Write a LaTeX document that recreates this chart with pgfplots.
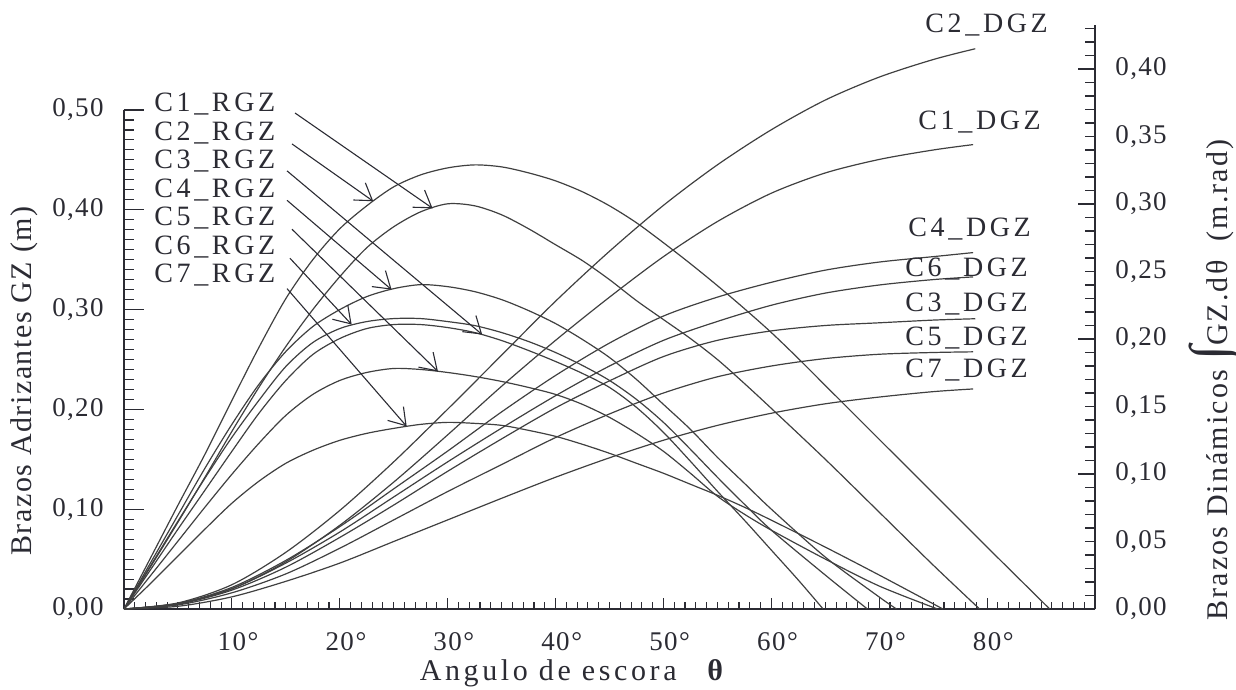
\documentclass[border=0pt]{standalone}
\usepackage{fontspec}
\setmainfont{Liberation Serif}
\newfontfamily\tickfont[LetterSpace=5]{Liberation Serif}
\newfontfamily\clabfont[LetterSpace=13]{Liberation Serif}
\newfontfamily\ylabfont[LetterSpace=5]{Liberation Serif}
\newfontfamily\rlabfont[LetterSpace=7]{Liberation Serif}
\newfontfamily\xlabfont[LetterSpace=12]{Liberation Serif}
\usepackage{pgfplots}
\pgfplotsset{compat=1.18}
\usetikzlibrary{arrows.meta}
\definecolor{ink}{HTML}{2B2B33}
\definecolor{crv}{HTML}{404040}
\newcommand{\tk}{\tickfont\fontsize{13.5}{16}\selectfont}
\newcommand{\cl}{\clabfont\fontsize{14}{16}\selectfont}
\newcommand{\dg}{\rlap{\kern0.8pt°}}
\pgfplotsset{
  base/.style={at={(0,0)}, anchor=south west, scale only axis, width=485.5pt,
    xmin=0, xmax=90, ymin=0, clip=false,
    axis line style={-, draw=ink, line width=0.8pt},
    tick style={draw=ink, line width=0.55pt}},
  crvs/.style={crv, line width=0.6pt, smooth, tension=0.5},
}
\begin{document}
\begin{tikzpicture}
\useasboundingbox (-62pt,-40.5pt) rectangle (556pt,304.5pt);
% ---- x axis
\begin{axis}[base, height=249.5pt, ymax=0.5,
  axis x line=bottom, axis y line=none, ytick=\empty,
  x axis line style={-}, tick align=inside,
  xtick={0,10,20,30,40,50,60,70,80,90},
  xticklabels={{},{10\dg},{20\dg},{30\dg},{40\dg},{50\dg},{60\dg},{70\dg},{80\dg},{}},
  minor xtick={0,1,...,90},
  major tick length=5.3pt, minor tick length=3.3pt,
  xticklabel style={font=\tk, text=ink, inner sep=0pt, anchor=north, yshift=-11.5pt}]
\end{axis}
% ---- left axis: righting arms GZ
\begin{axis}[base, height=249.5pt, ymax=0.5,
  axis x line=none, axis y line=left, xtick=\empty,
  y axis line style={-}, tick align=inside,
  ytick={0,0.1,0.2,0.3,0.4,0.5},
  yticklabels={{0,00},{0,10},{0,20},{0,30},{0,40},{0,50}},
  minor ytick={0,0.01,...,0.5},
  major tick length=10pt, minor tick length=4.75pt,
  yticklabel style={font=\tk, text=ink, inner sep=0pt, anchor=east, xshift=-10pt}]
% C1_RGZ
\addplot[crvs] coordinates {(0,0)(2.5,0.043)(5,0.087)(7.5,0.132)(10,0.178)(12.5,0.222)(15,0.263)(17.5,0.300)(20,0.333)(22.5,0.362)(25,0.383)(27.5,0.398)(30,0.406)(32.5,0.404)(35,0.395)(37.5,0.381)(40,0.365)(42.5,0.349)(45,0.330)(47.5,0.309)(50,0.290)(52.5,0.271)(55,0.250)(57.5,0.226)(60,0.201)(65,0.150)(70,0.097)(75,0.044)(79.3,0)};
% C2_RGZ
\addplot[crvs] coordinates {(0,0)(2.5,0.052)(5,0.104)(7.5,0.155)(10,0.209)(12.5,0.262)(15,0.311)(17.5,0.350)(20,0.381)(22.5,0.404)(25,0.423)(27.5,0.435)(30,0.442)(32.5,0.445)(35,0.443)(37.5,0.437)(40,0.429)(42.5,0.418)(45,0.404)(47.5,0.387)(50,0.367)(52.5,0.346)(55,0.324)(57.5,0.301)(60,0.277)(62.5,0.251)(65,0.224)(70,0.170)(75,0.116)(80,0.062)(85.8,0)};
% C3_RGZ
\addplot[crvs] coordinates {(0,0)(2.5,0.040)(5,0.080)(7.5,0.119)(10,0.158)(12.5,0.196)(15,0.229)(17.5,0.255)(20,0.271)(22.5,0.281)(25,0.285)(27.5,0.285)(30,0.282)(32.5,0.277)(35,0.269)(37.5,0.259)(40,0.248)(42.5,0.236)(45,0.222)(47.5,0.202)(50,0.177)(52.5,0.148)(55,0.118)(57.5,0.089)(60,0.059)(62.5,0.029)(64.8,0)};
% C4_RGZ
\addplot[crvs] coordinates {(0,0)(2.5,0.047)(5,0.094)(7.5,0.141)(10,0.185)(12.5,0.225)(15,0.258)(17.5,0.283)(20,0.300)(22.5,0.313)(25,0.321)(27.5,0.325)(30,0.323)(32.5,0.318)(35,0.310)(37.5,0.299)(40,0.286)(42.5,0.270)(45,0.252)(47.5,0.230)(50,0.205)(52.5,0.180)(55,0.152)(57.5,0.126)(60,0.100)(65,0.052)(70,0.012)(71.6,0)};
% C5_RGZ
\addplot[crvs] coordinates {(0,0)(2.5,0.034)(5,0.068)(7.5,0.102)(10,0.135)(12.5,0.166)(15,0.194)(17.5,0.215)(20,0.229)(22.5,0.237)(25,0.241)(27.5,0.240)(30,0.237)(32.5,0.233)(35,0.228)(37.5,0.222)(40,0.215)(42.5,0.205)(45,0.192)(47.5,0.176)(50,0.158)(52.5,0.136)(55,0.113)(57.5,0.095)(60,0.079)(65,0.050)(70,0.023)(75.4,0)};
% C6_RGZ
\addplot[crvs] coordinates {(0,0)(2.5,0.044)(5,0.088)(7.5,0.131)(10,0.172)(12.5,0.209)(15,0.243)(17.5,0.267)(20,0.281)(22.5,0.288)(25,0.291)(27.5,0.291)(30,0.288)(32.5,0.284)(35,0.277)(37.5,0.268)(40,0.257)(42.5,0.244)(45,0.229)(47.5,0.210)(50,0.187)(52.5,0.160)(55,0.132)(57.5,0.105)(60,0.079)(65,0.034)(68.9,0)};
% C7_RGZ
\addplot[crvs] coordinates {(0,0)(2.5,0.026)(5,0.053)(7.5,0.080)(10,0.106)(12.5,0.128)(15,0.146)(17.5,0.159)(20,0.169)(22.5,0.176)(25,0.181)(27.5,0.185)(30,0.187)(32.5,0.186)(35,0.184)(37.5,0.179)(40,0.173)(42.5,0.165)(45,0.156)(47.5,0.146)(50,0.136)(52.5,0.125)(55,0.114)(57.5,0.102)(60,0.089)(65,0.062)(70,0.034)(75.9,0)};
% arrows from labels to curves
\begin{scope}[ink, line width=0.55pt, -{Straight Barb[length=8pt,width=10.5pt]}]
\draw (axis cs:15.85,0.497) -- (axis cs:28.6,0.4015);
\draw (axis cs:15.57,0.466) -- (axis cs:23.1,0.4086);
\draw (axis cs:15.11,0.439) -- (axis cs:33.2,0.275);
\draw (axis cs:15.11,0.4095) -- (axis cs:24.8,0.320);
\draw (axis cs:15.57,0.3805) -- (axis cs:29.1,0.238);
\draw (axis cs:15.38,0.3515) -- (axis cs:21.1,0.2850);
\draw (axis cs:15.11,0.321) -- (axis cs:26.2,0.183);
\end{scope}
\end{axis}
% ---- right axis: dynamic arms
\begin{axis}[base, height=292pt, ymax=0.4326,
  axis x line=none, axis y line=right, xtick=\empty,
  y axis line style={-}, tick align=inside,
  ytick={0,0.05,0.1,0.15,0.2,0.25,0.3,0.35,0.4},
  yticklabels={{0,00},{0,05},{0,10},{0,15},{0,20},{0,25},{0,30},{0,35},{0,40}},
  minor ytick={0,0.01,...,0.43},
  major tick length=5pt, minor tick length=5pt,
  extra y ticks={0,0.1,0.2,0.3,0.4}, extra y tick labels={},
  extra y tick style={major tick length=8.5pt},
  yticklabel style={font=\tk, text=ink, inner sep=0pt, anchor=west, xshift=10pt}]
% C1_DGZ
\addplot[crvs] coordinates {(0,0)(5,0.004)(10,0.015)(15,0.035)(20,0.062)(25,0.094)(30,0.129)(35,0.165)(40,0.199)(45,0.231)(50,0.261)(55,0.287)(60,0.308)(65,0.323)(70,0.333)(75,0.340)(78.7,0.344)};
% C2_DGZ
\addplot[crvs] coordinates {(0,0)(5,0.0045)(10,0.018)(15,0.042)(20,0.073)(25,0.109)(30,0.148)(35,0.188)(40,0.228)(45,0.265)(50,0.299)(55,0.329)(60,0.355)(65,0.377)(70,0.394)(75,0.407)(78.9,0.415)};
% C3_DGZ
\addplot[crvs] coordinates {(0,0)(5,0.0035)(10,0.014)(15,0.031)(20,0.053)(25,0.077)(30,0.102)(35,0.126)(40,0.149)(45,0.169)(50,0.187)(55,0.199)(60,0.206)(65,0.210)(70,0.212)(75,0.214)(78.9,0.215)};
% C4_DGZ
\addplot[crvs] coordinates {(0,0)(5,0.004)(10,0.016)(15,0.036)(20,0.061)(25,0.089)(30,0.117)(35,0.146)(40,0.173)(45,0.197)(50,0.217)(55,0.231)(60,0.242)(65,0.251)(70,0.257)(75,0.261)(78.7,0.264)};
% C5_DGZ
\addplot[crvs] coordinates {(0,0)(5,0.003)(10,0.012)(15,0.026)(20,0.045)(25,0.066)(30,0.087)(35,0.107)(40,0.127)(45,0.1445)(50,0.160)(55,0.172)(60,0.180)(65,0.1855)(70,0.1887)(75,0.190)(78.7,0.1905)};
% C6_DGZ
\addplot[crvs] coordinates {(0,0)(5,0.004)(10,0.015)(15,0.034)(20,0.057)(25,0.083)(30,0.109)(35,0.134)(40,0.158)(45,0.180)(50,0.199)(55,0.213)(60,0.225)(65,0.234)(70,0.240)(75,0.244)(78.7,0.246)};
% C7_DGZ
\addplot[crvs] coordinates {(0,0)(5,0.002)(10,0.009)(15,0.0205)(20,0.034)(25,0.050)(30,0.066)(35,0.082)(40,0.0976)(45,0.112)(50,0.125)(55,0.136)(60,0.145)(65,0.152)(70,0.157)(75,0.161)(78.7,0.163)};
\end{axis}
% ---- curve labels
\begin{scope}[every node/.style={text=ink, inner sep=0pt, anchor=base west, font=\cl}]
\node at (15pt,248.5pt) {C1\_RGZ};
\node at (15pt,234.25pt) {C2\_RGZ};
\node at (15pt,220pt) {C3\_RGZ};
\node at (15pt,205.75pt) {C4\_RGZ};
\node at (15pt,191.5pt) {C5\_RGZ};
\node at (15pt,177.25pt) {C6\_RGZ};
\node at (15pt,163pt) {C7\_RGZ};
\node at (400.5pt,288pt) {C2\_DGZ};
\node at (397pt,239.5pt) {C1\_DGZ};
\node at (392pt,186pt) {C4\_DGZ};
\node at (390.5pt,166pt) {C6\_DGZ};
\node at (390.5pt,148.5pt) {C3\_DGZ};
\node at (390.5pt,131.5pt) {C5\_DGZ};
\node at (390.5pt,115.5pt) {C7\_DGZ};
\end{scope}
% ---- axis titles
\node[text=ink, inner sep=0pt, anchor=base east, font=\xlabfont\fontsize{15}{18}\selectfont] at (276.5pt,-36pt) {Angulo de escora};
\node[text=ink, inner sep=0pt, anchor=base west, font=\bfseries\fontsize{15}{18}\selectfont] at (291.5pt,-36pt) {θ};
\node[text=ink, inner sep=0pt, anchor=base, rotate=90, font=\ylabfont\fontsize{15}{18}\selectfont] at (-46pt,114pt) {Brazos Adrizantes GZ (m)};
\node[text=ink, inner sep=0pt, anchor=base, rotate=90, font=\rlabfont\fontsize{15}{18}\selectfont] at (551.5pt,114.5pt) {Brazos Dinámicos {\fontsize{27}{27}\selectfont ∫}GZ.dθ\ \ (m.rad)};
\end{tikzpicture}
\end{document}
